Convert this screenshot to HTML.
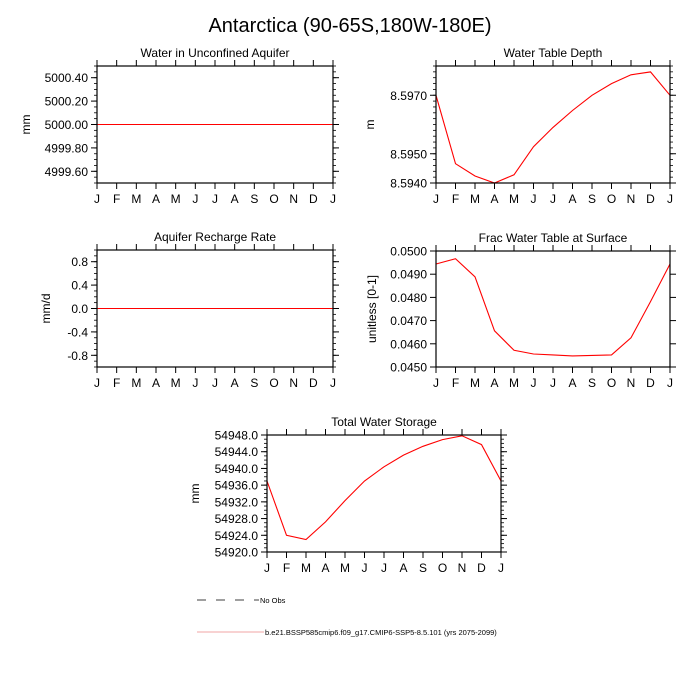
<!DOCTYPE html>
<html><head><meta charset="utf-8">
<style>
html,body{margin:0;padding:0;background:#fff;}
svg{display:block;font-family:"Liberation Sans",Arial,sans-serif;}
</style></head>
<body>
<svg id="chart" width="700" height="700" viewBox="0 0 700 700">
<text x="350" y="32" font-size="20" text-anchor="middle">Antarctica (90-65S,180W-180E)</text>
<g>
<line x1="197" y1="600" x2="259" y2="600" stroke="#000" stroke-width="0.8" stroke-dasharray="9,10"/>
<text x="260" y="603" font-size="7.5">No Obs</text>
<line x1="197" y1="632" x2="264" y2="632" stroke="#e88" stroke-width="0.8"/>
<text x="265" y="635" font-size="7.5">b.e21.BSSP585cmip6.f09_g17.CMIP6-SSP5-8.5.101 (yrs 2075-2099)</text>
</g>
</svg>
<script>
const months = ["J","F","M","A","M","J","J","A","S","O","N","D","J"];
const aquiferValues = [5000,5000,5000,5000,5000,5000,5000,5000,5000,5000,5000,5000,5000];
const aquiferTicks = ["5000.40","5000.20","5000.00","4999.80","4999.60"];
const wtdValues = [8.5970,8.59466,8.59424,8.5940,8.59428,8.59524,8.5959,8.59648,8.5970,8.5974,8.5977,8.5978,8.5970];
const wtdTicks = ["8.5970","8.5950","8.5940"];
const rechargeValues = [0,0,0,0,0,0,0,0,0,0,0,0,0];
const rechargeTicks = ["0.8","0.4","0.0","-0.4","-0.8"];
const fracValues = [0.04944,0.04967,0.04889,0.04656,0.04572,0.04556,0.04552,0.04548,0.0455,0.04552,0.04626,0.04782,0.04944];
const fracTicks = ["0.0500","0.0490","0.0480","0.0470","0.0460","0.0450"];
const twsValues = [54937,54924,54923,54927.2,54932.3,54937,54940.4,54943.2,54945.3,54946.9,54947.8,54945.7,54937];
const twsTicks = ["54948.0","54944.0","54940.0","54936.0","54932.0","54928.0","54924.0","54920.0"];

const NS="http://www.w3.org/2000/svg";
const svg=document.getElementById("chart");
function mk(tag,attrs,parent){const e=document.createElementNS(NS,tag);for(const k in attrs)e.setAttribute(k,attrs[k]);(parent||svg).appendChild(e);return e;}

function panel(cfg){
  const g=mk("g",{});
  
  
  const {x0,x1,y0,y1,ymin,ymax}=cfg;
  const sx=i=>x0+(x1-x0)*i/(months.length-1);
  const sy=v=>y1-(v-ymin)/(ymax-ymin)*(y1-y0);
  const t=mk("text",{x:(x0+x1)/2,y:y0-9,"font-size":12,"text-anchor":"middle"},g);
  t.textContent=cfg.title;
  
  
  if(cfg.minor){
    for(let v=ymin;v<=ymax+1e-9;v+=cfg.minor){
      const y=sy(v);
      mk("line",{x1:x0-3,y1:y,x2:x0,y2:y,stroke:"#000","stroke-width":0.8},g);
      mk("line",{x1:x1,y1:y,x2:x1+3,y2:y,stroke:"#000","stroke-width":0.8},g);
    }
  }
  cfg.ticks.forEach(s=>{
    const v=parseFloat(s),y=sy(v);
    mk("line",{x1:x0-6,y1:y,x2:x0,y2:y,stroke:"#000","stroke-width":1},g);
    mk("line",{x1:x1,y1:y,x2:x1+6,y2:y,stroke:"#000","stroke-width":1},g);
    const l=mk("text",{x:x0-9,y:y+4.5,"font-size":12,"text-anchor":"end"},g);
    l.textContent=s;
    
    
  });
  months.forEach((m,i)=>{
    const x=sx(i);
    mk("line",{x1:x,y1:y1,x2:x,y2:y1+6,stroke:"#000","stroke-width":1},g);
    mk("line",{x1:x,y1:y0-6,x2:x,y2:y0,stroke:"#000","stroke-width":1},g);
    const l=mk("text",{x:x,y:y1+20,"font-size":12,"text-anchor":"middle"},g);
    l.textContent=m;
    
    
  });
  const yl=mk("text",{x:0,y:0,"font-size":12,"text-anchor":"middle",transform:`translate(${cfg.ylx},${(y0+y1)/2}) rotate(-90)`},g);
  yl.textContent=cfg.ylabel;
  
  
  const pts=cfg.values.map((v,i)=>sx(i).toFixed(1)+","+sy(v).toFixed(1)).join(" ");
  const pl=mk("polyline",{points:pts,fill:"none",stroke:"#f00","stroke-width":1.1},g);
  
  
  const r=mk("rect",{x:x0,y:y0,width:x1-x0,height:y1-y0,fill:"none",stroke:"#000","stroke-width":1.2},g);
  
  
}
panel({name:"panel-unconfined-aquifer",title:"Water in Unconfined Aquifer",x0:97,x1:333,y0:66,y1:183,ymin:4999.5,ymax:5000.5,ticks:aquiferTicks,values:aquiferValues,ylabel:"mm",ylx:30,minor:0.05});
panel({name:"panel-water-table-depth",title:"Water Table Depth",x0:436,x1:670,y0:66,y1:183,ymin:8.594,ymax:8.598,ticks:wtdTicks,values:wtdValues,ylabel:"m",ylx:374,minor:0.0002});
panel({name:"panel-recharge-rate",title:"Aquifer Recharge Rate",x0:97,x1:333,y0:250,y1:367,ymin:-1,ymax:1,ticks:rechargeTicks,values:rechargeValues,ylabel:"mm/d",ylx:50,minor:0.1});
panel({name:"panel-frac-water-table",title:"Frac Water Table at Surface",x0:436,x1:670,y0:251,y1:367,ymin:0.045,ymax:0.050,ticks:fracTicks,values:fracValues,ylabel:"unitless [0-1]",ylx:376,minor:0});
panel({name:"panel-total-water-storage",title:"Total Water Storage",x0:267,x1:501,y0:435,y1:552,ymin:54920,ymax:54948,ticks:twsTicks,values:twsValues,ylabel:"mm",ylx:199,minor:1});
</script>
</body></html>
